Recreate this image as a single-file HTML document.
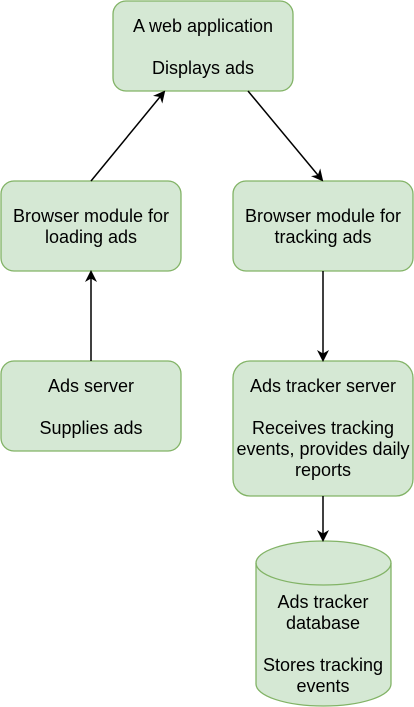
<!DOCTYPE html>
<html><head><style>
html,body{margin:0;padding:0;background:#fff;}
svg{display:block;}
text{font-family:"Liberation Sans",Helvetica,Arial,sans-serif;font-size:18px;fill:#000;text-anchor:middle;}
</style></head><body>
<svg width="414" height="707" viewBox="0 0 414 707" xmlns="http://www.w3.org/2000/svg">
<defs>
<marker id="a" markerWidth="12" markerHeight="12" refX="10" refY="6" orient="auto" markerUnits="userSpaceOnUse">
<path d="M0,0 L12,6 L0,12 L3.5,6 Z" fill="#000"/>
</marker>
</defs>
<g fill="#d5e8d4" stroke="#82b366" stroke-width="1.3">
<rect x="113" y="1" width="180" height="90" rx="13"/>
<rect x="1" y="181" width="180" height="90" rx="13"/>
<rect x="233" y="181" width="180" height="90" rx="13"/>
<rect x="1" y="361" width="180" height="90" rx="13"/>
<rect x="233" y="361" width="180" height="135" rx="17"/>
<path d="M256,563 A67.5,22 0 0 1 391,563 L391,684 A67.5,22 0 0 1 256,684 Z"/>
<path d="M256,563 A67.5,22 0 0 0 391,563" fill="none"/>
</g>
<g stroke="#000" stroke-width="1.5" fill="none">
<line x1="91" y1="181" x2="164" y2="92" marker-end="url(#a)"/>
<line x1="248" y1="91" x2="322" y2="180" marker-end="url(#a)"/>
<line x1="91" y1="361" x2="91" y2="272" marker-end="url(#a)"/>
<line x1="323" y1="271" x2="323" y2="360" marker-end="url(#a)"/>
<line x1="323" y1="496" x2="323" y2="540" marker-end="url(#a)"/>
</g>
<text x="203" y="32">A web application</text>
<text x="203" y="74">Displays ads</text>
<text x="91" y="222">Browser module for</text>
<text x="91" y="243">loading ads</text>
<text x="323" y="222">Browser module for</text>
<text x="323" y="243">tracking ads</text>
<text x="91" y="392">Ads server</text>
<text x="91" y="434">Supplies ads</text>
<text x="323" y="392">Ads tracker server</text>
<text x="323" y="434">Receives tracking</text>
<text x="323" y="455">events, provides daily</text>
<text x="323" y="476">reports</text>
<text x="323" y="608">Ads tracker</text>
<text x="323" y="629">database</text>
<text x="323" y="671">Stores tracking</text>
<text x="323" y="692">events</text>
</svg>
</body></html>
